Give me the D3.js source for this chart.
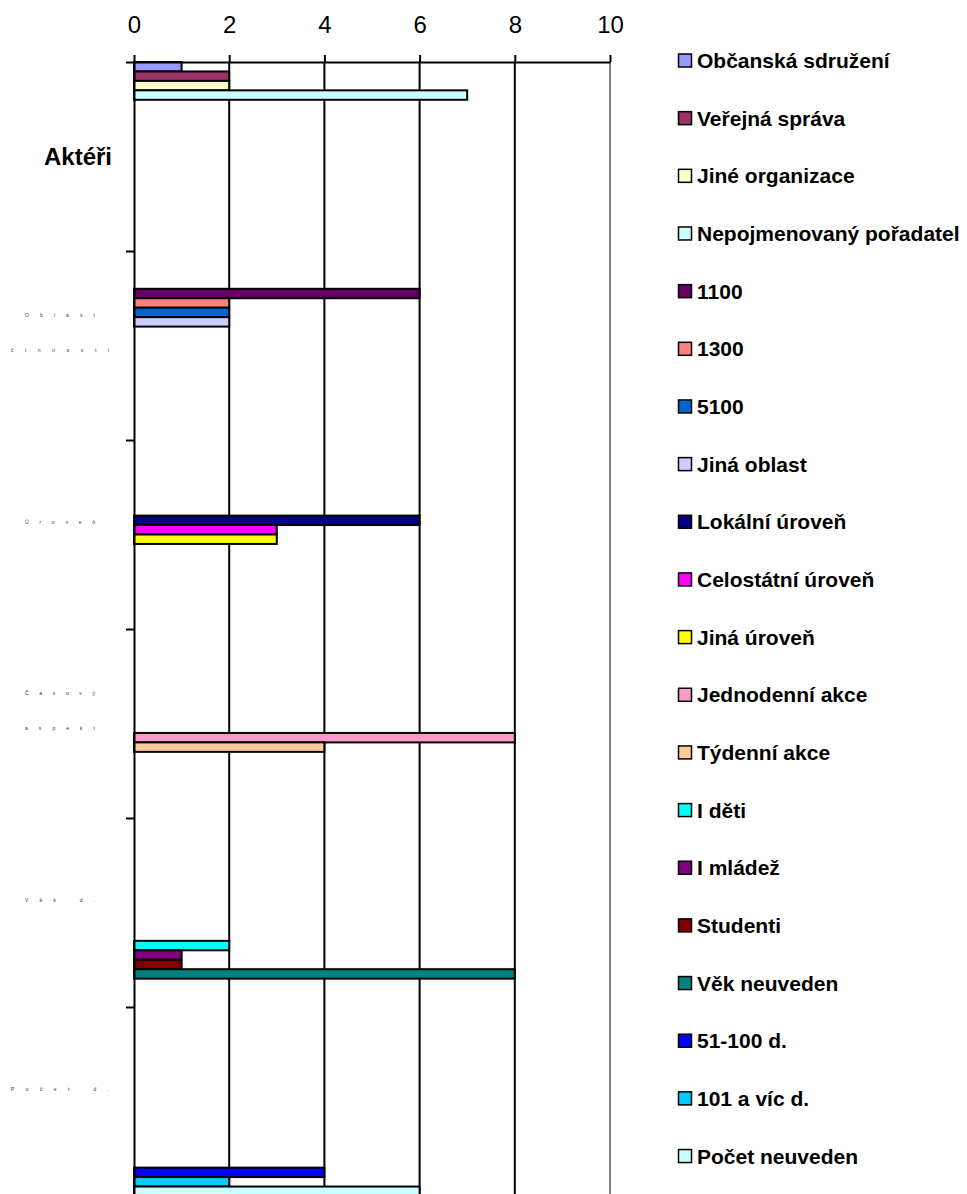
<!DOCTYPE html>
<html>
<head>
<meta charset="utf-8">
<script src="https://cdn.jsdelivr.net/npm/d3@7/dist/d3.min.js"></script>
<style>
  body { margin: 0; background: #fff; }
  svg { display: block; font-family: "Liberation Sans", Arial, sans-serif; }
</style>
</head>
<body>
<div id="chart"></div>
<script>
const categories = ['Aktéři', 'Oblast činnosti', 'Úroveň', 'Časový aspekt', 'Věk d.', 'Počet d.'];

// series listed in the order they sit inside each category
const aktery = ['Občanská sdružení', 'Veřejná správa', 'Jiné organizace', 'Nepojmenovaný pořadatel'];
const oblast = ['1100', '1300', '5100', 'Jiná oblast'];
const uroven = ['Lokální úroveň', 'Celostátní úroveň', 'Jiná úroveň'];
const casovy = ['Jednodenní akce', 'Týdenní akce'];
const vek = ['I děti', 'I mládež', 'Studenti', 'Věk neuveden'];
const pocet = ['51-100 d.', '101 a víc d.', 'Počet neuveden'];

const akteryValues = [1, 2, 2, 7];
const oblastValues = [6, 2, 2, 2];
const urovenValues = [6, 3, 3];
const casovyValues = [8, 4];
const vekValues = [2, 1, 1, 8];
const pocetValues = [4, 2, 6];

const seriesColors = [
  '#9999FF', '#993366', '#FFFFCC', '#CCFFFF',
  '#660066', '#FF8080', '#0066CC', '#CCCCFF',
  '#000080', '#FF00FF', '#FFFF00',
  '#FF99CC', '#FFCC99',
  '#00FFFF', '#800080', '#800000', '#008080',
  '#0000FF', '#00CCFF', '#CCFFFF'
];

const xTicks = [0, 2, 4, 6, 8, 10];

const groups = [
  [aktery, akteryValues], [oblast, oblastValues], [uroven, urovenValues],
  [casovy, casovyValues], [vek, vekValues], [pocet, pocetValues]
];
const seriesNames = groups.flatMap(g => g[0]);

const bars = [];
groups.forEach(([names, vals], ci) => {
  names.forEach((n, i) => bars.push({ category: categories[ci], series: n, value: vals[i] }));
});

const width = 967, height = 1194;
const plotLeft = 134, plotRight = 610, plotTop = 62, plotBottom = 1196;
const font = '"Liberation Sans", Arial, sans-serif';

const svg = d3.select('#chart').append('svg')
  .attr('width', width)
  .attr('height', height)
  .attr('font-family', font);

const x = d3.scaleLinear().domain([0, 10]).range([plotLeft, plotRight]);
const y = d3.scaleBand().domain(categories).range([plotTop, plotBottom]).padding(0);
const ySeries = d3.scaleBand().domain(seriesNames).range([0, y.bandwidth()]).padding(0);
const color = d3.scaleOrdinal().domain(seriesNames).range(seriesColors);

// gridlines
svg.append('g')
  .selectAll('line')
  .data(xTicks.filter(d => d > 0))
  .enter()
  .append('line')
  .attr('x1', d => x(d))
  .attr('x2', d => x(d))
  .attr('y1', plotTop)
  .attr('y2', plotBottom)
  .attr('stroke', d => d === 10 ? '#808080' : '#000')
  .attr('stroke-width', 2);

// bars
svg.append('g')
  .selectAll('rect')
  .data(bars)
  .enter()
  .append('rect')
  .attr('x', x(0))
  .attr('y', d => y(d.category) + ySeries(d.series))
  .attr('width', d => x(d.value) - x(0))
  .attr('height', ySeries.bandwidth())
  .attr('fill', d => color(d.series))
  .attr('stroke', '#000')
  .attr('stroke-width', 2);

// top value axis
const xAxis = svg.append('g')
  .attr('transform', `translate(0,${plotTop})`)
  .call(d3.axisTop(x).tickValues(xTicks).tickSize(7).tickSizeOuter(0).tickPadding(22))
  .attr('font-family', font)
  .attr('font-size', 24);
xAxis.select('.domain').attr('stroke', '#000').attr('stroke-width', 2);
xAxis.selectAll('.tick line').attr('stroke', '#000').attr('stroke-width', 2);
xAxis.selectAll('.tick text').attr('fill', '#000');

// left category axis, ticks on the category boundaries
const yEdge = d3.scaleLinear().domain([0, categories.length]).range([plotTop, plotBottom]);
const yAxis = svg.append('g')
  .attr('transform', `translate(${plotLeft},0)`)
  .call(d3.axisLeft(yEdge).ticks(categories.length).tickSize(8).tickSizeOuter(0).tickFormat(''));
yAxis.select('.domain').attr('stroke', '#000').attr('stroke-width', 2);
yAxis.selectAll('.tick line').attr('stroke', '#000').attr('stroke-width', 2);

// category labels: the first one is readable, the others come out as tiny spread letters
categories.forEach((c, i) => {
  const cy = y(c) + y.bandwidth() / 2;
  if (i === 0) {
    svg.append('text')
      .attr('x', 112)
      .attr('y', cy + 8)
      .attr('text-anchor', 'end')
      .attr('font-size', 24)
      .attr('font-weight', 'bold')
      .text(c);
    return;
  }
  const words = c.split(' ');
  const lines = words.length > 1 && words[1].length > 2 ? words : [c];
  const offsets = lines.length > 1 ? [-30, 4.5] : [-12.5];
  lines.forEach((ln, li) => {
    svg.append('text')
      .attr('x', 60)
      .attr('y', cy + offsets[li] + 1.5)
      .attr('text-anchor', 'middle')
      .attr('font-size', 5)
      .attr('fill', '#333')
      .attr('textLength', (ln.length - 1) * 14)
      .attr('lengthAdjust', 'spacing')
      .text(ln);
  });
});

// legend
const legendTop = 60.5, legendStep = 57.66;
const legend = svg.append('g')
  .selectAll('g')
  .data(seriesNames)
  .enter()
  .append('g')
  .attr('transform', (d, i) => `translate(678,${legendTop + i * legendStep})`);

legend.append('rect')
  .attr('x', 0.5)
  .attr('y', -6.5)
  .attr('width', 13)
  .attr('height', 13)
  .attr('fill', d => color(d))
  .attr('stroke', '#000')
  .attr('stroke-width', 1.5);

legend.append('text')
  .attr('x', 19)
  .attr('y', 7.5)
  .attr('font-size', 21)
  .attr('font-weight', 'bold')
  .attr('fill', '#000')
  .text(d => d);
</script>
</body>
</html>
